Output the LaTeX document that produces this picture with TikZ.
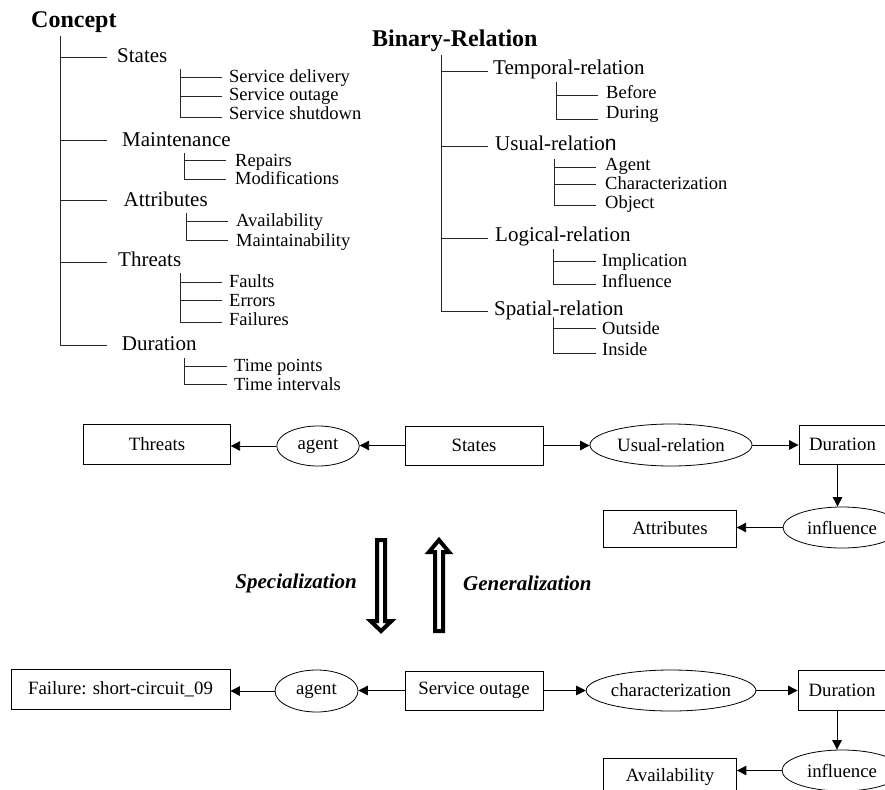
\documentclass[tikz,border=0pt]{standalone}
\usepackage{fontspec}
\setmainfont{Liberation Serif}
\newfontfamily\sansn{Liberation Sans}
\usetikzlibrary{arrows.meta,shapes.geometric}
\begin{document}
\begin{tikzpicture}[x=1pt,y=-1pt,
  lvlzero/.style={anchor=base west,inner sep=0pt,font=\fontsize{24}{26}\selectfont\bfseries},
  lvlone/.style={anchor=base west,inner sep=0pt,font=\fontsize{21}{23}\selectfont},
  lvltwo/.style={anchor=base west,inner sep=0pt,font=\fontsize{18.5}{20}\selectfont},
  tline/.style={line width=0.9pt,black!85},
  box/.style={draw,line width=0.8pt,rectangle,inner sep=0pt,font=\fontsize{18.8}{20}\selectfont},
  oval/.style={draw,line width=0.8pt,ellipse,inner sep=0pt,font=\fontsize{18.8}{20}\selectfont},
  arr/.style={line width=0.9pt,-{Triangle[length=9.5pt,width=9.5pt]}},
  bigarrow/.style={line width=4pt,fill=white,line join=miter,miter limit=3},
  gen/.style={font=\fontsize{21}{23}\selectfont\bfseries\itshape,inner sep=0pt}
]
\useasboundingbox (0,0) rectangle (885,789);
\clip (0,0) rectangle (885,789);

% ---------------- Concept tree ----------------
\node[lvlzero] (concept) at (31,27.3) {Concept};
\node[lvlone] (states) at (117,62.7) {States};
\node[lvltwo] (sdel) at (229,82.7) {Service delivery};
\node[lvltwo] (sout) at (229,100.7) {Service outage};
\node[lvltwo] (sshut) at (229,119.3) {Service shutdown};
\node[lvlone] (maint) at (122,146.7) {Maintenance};
\node[lvltwo] (rep) at (235,166) {Repairs};
\node[lvltwo] (modif) at (235,184.3) {Modifications};
\node[lvlone] (attr) at (123.5,206.7) {Attributes};
\node[lvltwo] (avail) at (236,226) {Availability};
\node[lvltwo] (maintb) at (236,246) {Maintainability};
\node[lvlone] (thr) at (118,266.7) {Threats};
\node[lvltwo] (fau) at (229,287.3) {Faults};
\node[lvltwo] (err) at (229,306) {Errors};
\node[lvltwo] (fai) at (229,325) {Failures};
\node[lvlone] (dur) at (121.7,350.7) {Duration};
\node[lvltwo] (tpts) at (234,371.7) {Time points};
\node[lvltwo] (tint) at (234,390) {Time intervals};

\draw[tline] (60,36) -- (60,345) -- (107,345);
\draw[tline] (60,57) -- (107,57);
\draw[tline] (60,140) -- (107,140);
\draw[tline] (60,200) -- (107,200);
\draw[tline] (60,262) -- (107,262);

\draw[tline] (180,69) -- (180,117.3) -- (222,117.3);
\draw[tline] (180,77.3) -- (222,77.3);
\draw[tline] (180,96) -- (222,96);

\draw[tline] (184,153) -- (184,179) -- (226,179);
\draw[tline] (184,160) -- (226,160);

\draw[tline] (186,213) -- (186,240) -- (228,240);
\draw[tline] (186,221) -- (228,221);

\draw[tline] (180,273) -- (180,322) -- (222,322);
\draw[tline] (180,282) -- (222,282);
\draw[tline] (180,300) -- (222,300);

\draw[tline] (184,358) -- (184,384) -- (227,384);
\draw[tline] (184,366) -- (227,366);

% ---------------- Binary-Relation tree ----------------
\node[lvlzero] (binrel) at (372,46.7) {Binary-Relation};
\node[lvlone] (temp) at (493,74.3) {Temporal-relation};
\node[lvltwo] (before) at (606,99) {Before};
\node[lvltwo] (during) at (606,118.3) {During};
\node[lvlone] (usualr) at (495,150) {Usual-relatio{\sansn n}};
\node[lvltwo] (agentt) at (605,170) {Agent};
\node[lvltwo] (charact) at (605,189.3) {Characterization};
\node[lvltwo] (object) at (605,208.3) {Object};
\node[lvlone] (logic) at (495,241.7) {Logical-relation};
\node[lvltwo] (impl) at (601.7,266.7) {Implication};
\node[lvltwo] (infl) at (601.7,287.7) {Influence};
\node[lvlone] (spat) at (494,315) {Spatial-relation};
\node[lvltwo] (outs) at (602,334.3) {Outside};
\node[lvltwo] (ins) at (602,355.7) {Inside};

\draw[tline] (441,55) -- (441,311) -- (488,311);
\draw[tline] (441,71) -- (488,71);
\draw[tline] (441,146) -- (488,146);
\draw[tline] (441,238) -- (488,238);

\draw[tline] (556,82) -- (556,119) -- (598,119);
\draw[tline] (556,95) -- (598,95);

\draw[tline] (554,159) -- (554,205) -- (596,205);
\draw[tline] (554,167) -- (596,167);
\draw[tline] (554,184) -- (596,184);

\draw[tline] (553,249) -- (553,284) -- (596,284);
\draw[tline] (553,261) -- (596,261);

\draw[tline] (553,317) -- (553,353) -- (596,353);
\draw[tline] (553,328) -- (596,328);

% ---------------- Generic graph ----------------
\node[box,minimum width=146.5pt,minimum height=40pt] (threats) at (157,444) {Threats};
\node[oval,minimum width=82.5pt,minimum height=40pt] (agenta) at (318,446) {agent};
\node[box,minimum width=138pt,minimum height=39pt] (statesb) at (474,445.5) {States};
\node[oval,minimum width=162pt,minimum height=42pt] (usual) at (671,445) {Usual-relation};
\node[box,minimum width=87pt,minimum height=39pt] (durationa) at (842.5,444.5) {Duration};
\node[oval,minimum width=118pt,minimum height=41pt] (influencea) at (842,527.5) {influence};
\node[box,minimum width=132.5pt,minimum height=37pt] (attributes) at (670,528.5) {Attributes};

\draw[arr] (agenta.west) -- (agenta.west -| threats.east);
\draw[arr] (statesb.west) -- (statesb.west -| agenta.east);
\draw[arr] (statesb.east) -- (statesb.east -| usual.west);
\draw[arr] (usual.east) -- (usual.east -| durationa.west);
\draw[arr] ([xshift=-5pt]durationa.south) -- ([xshift=-5pt]durationa.south |- influencea.north);
\draw[arr] (influencea.west) -- (influencea.west -| attributes.east);

% ---------------- Specialization / Generalization ----------------
\draw[bigarrow] (377,540) -- (377,621) -- (370.5,621) -- (381,631) -- (391.5,621) -- (385,621) -- (385,540) -- cycle;
\draw[bigarrow] (435,631) -- (435,552) -- (429,552) -- (439,540) -- (449,552) -- (443,552) -- (443,631) -- cycle;
\node[gen,anchor=east] (spec) at (357,583) {Specialization};
\node[gen,anchor=west] (gener) at (463,583) {Generalization};

% ---------------- Instance graph ----------------
\node[box,minimum width=219pt,minimum height=40pt] (failure) at (120.5,689) {Failure: short-circuit\_09};
\node[oval,minimum width=83pt,minimum height=42pt] (agentb) at (316.5,691) {agent};
\node[box,minimum width=138pt,minimum height=39pt] (outage) at (474,690.5) {Service outage};
\node[oval,minimum width=162pt,minimum height=41pt] (charz) at (671,690.5) {characterization};
\node[box,minimum width=88pt,minimum height=40pt] (durationb) at (842,690) {Duration};
\node[oval,minimum width=120pt,minimum height=41pt] (influenceb) at (842,770.5) {influence};
\node[box,minimum width=133pt,minimum height=38pt] (availb) at (670,777) {Availability};

\draw[arr] (agentb.west) -- (agentb.west -| failure.east);
\draw[arr] (outage.west) -- (outage.west -| agentb.east);
\draw[arr] (outage.east) -- (outage.east -| charz.west);
\draw[arr] (charz.east) -- (charz.east -| durationb.west);
\draw[arr] ([xshift=-5pt]durationb.south) -- ([xshift=-5pt]durationb.south |- influenceb.north);
\draw[arr] (influenceb.west) -- (influenceb.west -| availb.east);
\end{tikzpicture}
\end{document}
